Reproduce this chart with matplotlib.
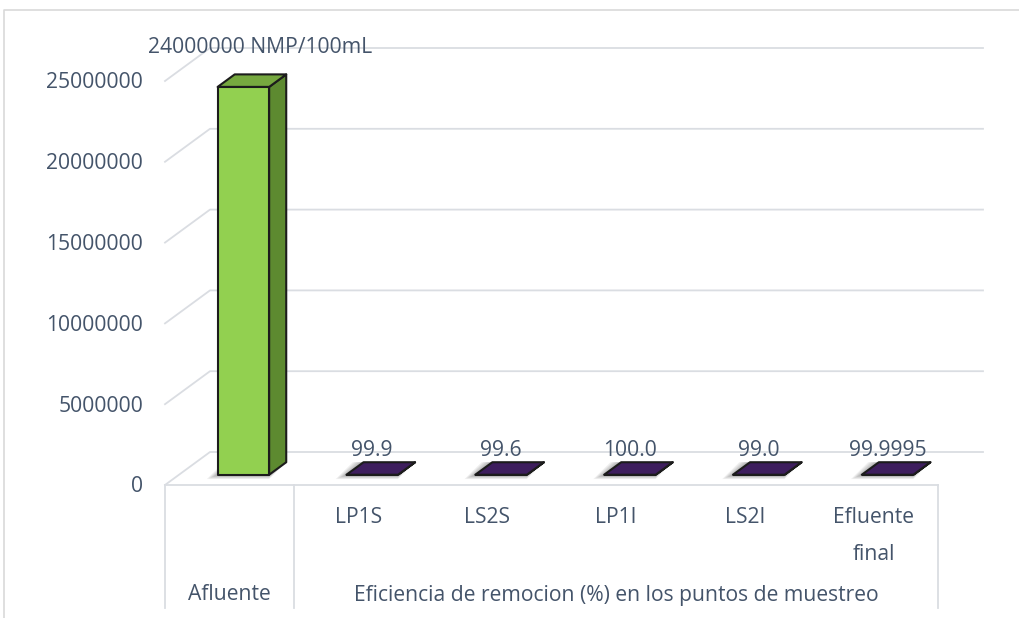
import matplotlib

matplotlib.use("Agg")
import matplotlib.pyplot as plt  # noqa: E402
from matplotlib.lines import Line2D  # noqa: E402
from matplotlib.patches import Polygon  # noqa: E402
from matplotlib.transforms import offset_copy  # noqa: E402

plt.rcParams["font.family"] = ["Open Sans", "DejaVu Sans"]

# data
categories = ["Afluente", "LP1S", "LS2S", "LP1I", "LS2I", "Efluente\nfinal"]
values = [24000000, 99.9, 99.6, 100.0, 99.0, 99.9995]
value_labels = ["24000000 NMP/100mL", "99.9", "99.6", "100.0", "99.0", "99.9995"]
groups = ["Afluente", "Eficiencia de remocion (%) en los puntos de muestreo"]
group_spans = [(0, 1), (1, 6)]
y_ticks = [0, 5000000, 10000000, 15000000, 20000000, 25000000]

TEXT = "#44546a"
GRID = "#dadde2"
FS = 15.2
FACE = {
    "green": ("#92d050", "#76a83f", "#5d8a30"),  # front, top, side
    "purple": ("#5b2a85", "#3e1e5e", "#2e1646"),
}
bar_style = ["green", "purple", "purple", "purple", "purple", "purple"]

W, H = 1020, 618
# front plane of the plot, in pixels
X0, X1, Y0, Y25 = 165, 938, 485, 81
DX, DY = 45, 33  # full depth of the 3D box, pixels
D0, D1 = 0.31, 0.69  # bar depth range
HW = 0.2  # half bar width, category units

fig = plt.figure(figsize=(W / 100, H / 100), dpi=100)
ax = fig.add_axes([X0 / W, (H - Y0) / H, (X1 - X0) / W, (Y0 - Y25) / H])
ax.set_xlim(0, len(categories))
ax.set_ylim(0, y_ticks[-1])
ax.axis("off")

UX = (X1 - X0) / len(categories)
UY = (Y0 - Y25) / y_ticks[-1]


def P(x, v, d):
    return (x + d * DX / UX, v + d * DY / UY)


def line(pts, **kw):
    xs, ys = zip(*pts)
    ax.add_line(Line2D(xs, ys, clip_on=False, **kw))


n = len(categories)
# back wall + left wall gridlines
for v in y_ticks:
    line([P(0, v, 0), P(0, v, 1), P(n, v, 1)], color=GRID, lw=1.3, zorder=1)
    ax.text(-22 / UX, v - 2 / UY, f"{v}", ha="right", va="center", fontsize=FS, color=TEXT)
# floor front edge
line([P(0, 0, 0), P(n, 0, 0)], color=GRID, lw=1.3, zorder=1)

# category table below the floor
bottom = -123 / UY
for x in [0, 1, n]:
    line([(x, 0), (x, bottom)], color=GRID, lw=1.3, zorder=1)
for i, c in enumerate(categories[1:], start=1):
    ax.text(i + 0.5, -22 / UY, c, ha="center", va="top", fontsize=FS,
            color=TEXT, linespacing=2.0)
for g, (a, b) in zip(groups, group_spans):
    ax.text((a + b) / 2, -110 / UY, g, ha="center", va="center",
            fontsize=FS, color=TEXT)

# bars
for i, v in enumerate(values):
    xl, xr = i + 0.5 - HW, i + 0.5 + HW
    front_c, top_c, side_c = FACE[bar_style[i]]
    # soft shadow under the bar footprint
    for k in range(6):
        s = (k + 1) * 1.8
        foot = [P(xl - s / UX, -s * 0.4 / UY, D0), P(xr, -s * 0.4 / UY, D0),
                P(xr, 0, D1), P(xl - s / UX, 0, D1)]
        ax.add_patch(Polygon(foot, closed=True, fc="black", ec="none",
                             alpha=0.06, zorder=2, clip_on=False))
    side = [P(xr, 0, D0), P(xr, 0, D1), P(xr, v, D1), P(xr, v, D0)]
    top = [P(xl, v, D0), P(xr, v, D0), P(xr, v, D1), P(xl, v, D1)]
    front = [P(xl, 0, D0), P(xr, 0, D0), P(xr, v, D0), P(xl, v, D0)]
    for pts, c in [(side, side_c), (top, top_c), (front, front_c)]:
        ax.add_patch(Polygon(pts, closed=True, fc=c, ec="#1c1c1c", lw=1.5,
                             joinstyle="round", zorder=3, clip_on=False))
    lx = P(i + 0.5, v, D0)[0]
    ly = P(i + 0.5, v, D1)[1]
    tall = v > 1e6
    tr = offset_copy(ax.transData, fig=fig, x=17 if tall else 0,
                     y=27 if tall else 12, units="dots")
    ax.text(lx, ly, value_labels[i], transform=tr, ha="center", va="center",
            fontsize=FS, color=TEXT, zorder=4, clip_on=False)

# chart area border (left and top)
fig.add_artist(Line2D([4 / W, 4 / W, 1.0], [0, 1 - 10 / H, 1 - 10 / H],
                      transform=fig.transFigure, color="#d9d9d9", lw=1.2))

fig.savefig("out.png", dpi=100)
